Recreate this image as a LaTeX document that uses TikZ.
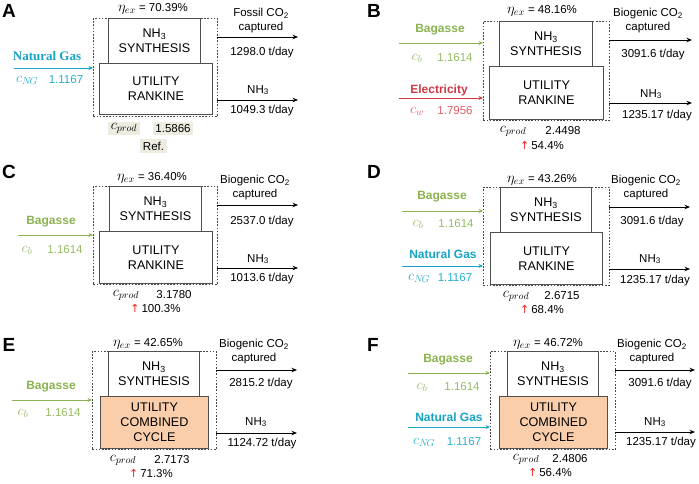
\documentclass[tikz,border=0pt]{standalone}
\usepackage{fontspec}
\setmainfont{Liberation Sans}
\newfontfamily\serifbold{Liberation Serif}
\newfontfamily\dejavu{DejaVu Sans}
\usetikzlibrary{arrows.meta}
\definecolor{ngcyan}{RGB}{22,163,196}
\definecolor{ngcyanl}{RGB}{40,175,205}
\definecolor{bagreen}{RGB}{138,178,78}
\definecolor{bagreenl}{RGB}{150,188,100}
\definecolor{elred}{RGB}{208,56,68}
\definecolor{elredl}{RGB}{222,92,104}
\definecolor{ccorange}{RGB}{250,206,170}
\definecolor{refbeige}{RGB}{238,235,224}
\definecolor{boxgray}{RGB}{80,80,80}
\definecolor{dashgray}{RGB}{70,70,70}
\definecolor{upred}{RGB}{240,30,30}
\tikzset{
  lbl/.style={font=\fontsize{11.5}{14}\selectfont, align=center, inner sep=0pt},
  plabel/.style={font=\bfseries\fontsize{19}{19}\selectfont, inner sep=0pt},
  eqlbl/.style={font=\fontsize{11.5}{14}\selectfont, inner sep=0pt},
  inlbl/.style={font=\bfseries\fontsize{12}{14}\selectfont, inner sep=0pt},
  vallbl/.style={font=\fontsize{11.5}{14}\selectfont, inner sep=0pt},
  synbox/.style={draw=boxgray, line width=0.9pt, anchor=north west, inner sep=0pt,
    align=center, font=\fontsize{12.6}{15}\selectfont},
  utilbox/.style={synbox},
  ccbox/.style={synbox, fill=ccorange},
  dashbox/.style={draw=dashgray, line width=0.9pt, dash pattern=on 1.6pt off 1.6pt,
    anchor=north west, inner sep=0pt},
  outarrow/.style={-{Stealth[length=5.5pt,width=4.5pt]}, line width=0.8pt, black},
  inarrow/.style={-{Stealth[length=4.5pt,width=4pt]}, line width=0.8pt},
  refbox/.style={fill=refbeige, inner sep=0pt, font=\fontsize{11.5}{14}\selectfont},
}
\newcommand{\uparr}{{\color{upred}\dejavu\fontsize{11}{14}\selectfont ↑}\,}
\newcommand{\mth}[1]{{\fontsize{14.5}{14}\selectfont$#1$}}
\newcommand{\etaex}{{\fontsize{14}{14}\selectfont$\eta_{ex}$}}
\begin{document}
\begin{tikzpicture}[x=1pt,y=-1pt]
\useasboundingbox (0,0) rectangle (699,483);

% ================= Panel A =================
\node[plabel] (Alab) at (9,11) {A};
\node[eqlbl] (Aeta) at (153,9) {\etaex\ = 70.39\%};
\node[dashbox, minimum width=124pt, minimum height=98pt] (Adash) at (93,18) {};
\node[synbox, fill=white, minimum width=92pt, minimum height=45pt] (Asyn) at (108,18) {NH\textsubscript{3}\\SYNTHESIS};
\node[utilbox, fill=white, minimum width=113pt, minimum height=51pt] (Autil) at (99,63) {UTILITY\\RANKINE};
\node[inlbl, text=ngcyan, font=\serifbold\bfseries\fontsize{13}{14}\selectfont] (Angt) at (47,56) {Natural Gas};
\coordinate (Ang0) at (14,68);
\coordinate (Ang1) at (93,68);
\draw[inarrow, ngcyan] (Ang0) -- (Ang1);
\node[vallbl, text=ngcyanl] (Angc) at (27,80) {\mth{c_{N\!G}}};
\node[vallbl, text=ngcyanl] (Angv) at (66,80) {1.1167};
\node[lbl] (Aco2) at (261,21) {Fossil CO\textsubscript{2}\\captured};
\coordinate (Ao1a) at (217,37);
\coordinate (Ao1b) at (298,37);
\draw[outarrow] (Ao1a) -- (Ao1b);
\node[lbl] (Aco2v) at (262,53) {1298.0 t/day};
\node[lbl] (Anh3) at (258,90) {NH\textsubscript{3}};
\coordinate (Ao2a) at (217,100);
\coordinate (Ao2b) at (298,100);
\draw[outarrow] (Ao2a) -- (Ao2b);
\node[lbl] (Anh3v) at (262,111) {1049.3 t/day};
\node[refbox, minimum width=32pt, minimum height=13pt] (Acp) at (124,128.5) {\mth{c_{prod}}};
\node[refbox, minimum width=40pt, minimum height=13pt] (Acpv) at (173,128.5) {1.5866};
\node[refbox, minimum width=27pt, minimum height=14pt] (Aref) at (153.5,146) {Ref.};

% ================= Panel B =================
\node[plabel] (Blab) at (374,11) {B};
\node[eqlbl] (Beta) at (542,11) {\etaex\ = 48.16\%};
\node[dashbox, minimum width=126pt, minimum height=99pt] (Bdash) at (483,21) {};
\node[synbox, fill=white, minimum width=93pt, minimum height=45pt] (Bsyn) at (499,21) {NH\textsubscript{3}\\SYNTHESIS};
\node[utilbox, fill=white, minimum width=114pt, minimum height=53pt] (Butil) at (489,66) {UTILITY\\RANKINE};
\node[inlbl, text=bagreen] (Bbag) at (440,30) {Bagasse};
\coordinate (Bb0) at (399,43);
\coordinate (Bb1) at (483,43);
\draw[inarrow, bagreen] (Bb0) -- (Bb1);
\node[vallbl, text=bagreenl] (Bbc) at (417,58) {\mth{c_b}};
\node[vallbl, text=bagreenl] (Bbv) at (455,58) {1.1614};
\node[inlbl, text=elred] (Bel) at (439,90) {Electricity};
\coordinate (Be0) at (399,98);
\coordinate (Be1) at (483,98);
\draw[inarrow, elred] (Be0) -- (Be1);
\node[vallbl, text=elredl] (Bec) at (417,111) {\mth{c_w}};
\node[vallbl, text=elredl] (Bev) at (455,111) {1.7956};
\node[lbl] (Bco2) at (648,21) {Biogenic CO\textsubscript{2}\\captured};
\coordinate (Bo1a) at (609,40);
\coordinate (Bo1b) at (692,40);
\draw[outarrow] (Bo1a) -- (Bo1b);
\node[lbl] (Bco2v) at (653,55) {3091.6 t/day};
\node[lbl] (Bnh3) at (651,94) {NH\textsubscript{3}};
\coordinate (Bo2a) at (609,103);
\coordinate (Bo2b) at (692,103);
\draw[outarrow] (Bo2a) -- (Bo2b);
\node[lbl] (Bnh3v) at (657,116) {1235.17 t/day};
\node[vallbl] (Bcp) at (513,131) {\mth{c_{prod}}};
\node[vallbl] (Bcpv) at (563,131) {2.4498};
\node[vallbl] (Bup) at (542,146) {\uparr 54.4\%};

% ================= Panel C =================
\node[plabel] (Clab) at (9,172) {C};
\node[eqlbl] (Ceta) at (152,178) {\etaex\ = 36.40\%};
\node[dashbox, minimum width=124pt, minimum height=98pt] (Cdash) at (93,186) {};
\node[synbox, fill=white, minimum width=92pt, minimum height=45pt] (Csyn) at (109,186) {NH\textsubscript{3}\\SYNTHESIS};
\node[utilbox, fill=white, minimum width=113pt, minimum height=52pt] (Cutil) at (99,231) {UTILITY\\RANKINE};
\node[inlbl, text=bagreen] (Cbag) at (51,222) {Bagasse};
\coordinate (Cb0) at (18,235);
\coordinate (Cb1) at (93,235);
\draw[inarrow, bagreen] (Cb0) -- (Cb1);
\node[vallbl, text=bagreenl] (Cbc) at (27,250) {\mth{c_b}};
\node[vallbl, text=bagreenl] (Cbv) at (65,250) {1.1614};
\node[lbl] (Cco2) at (255,187.5) {Biogenic CO\textsubscript{2}\\captured};
\coordinate (Co1a) at (217,205);
\coordinate (Co1b) at (298,205);
\draw[outarrow] (Co1a) -- (Co1b);
\node[lbl] (Cco2v) at (262,222) {2537.0 t/day};
\node[lbl] (Cnh3) at (258,259) {NH\textsubscript{3}};
\coordinate (Co2a) at (217,268);
\coordinate (Co2b) at (298,268);
\draw[outarrow] (Co2a) -- (Co2b);
\node[lbl] (Cnh3v) at (262,279) {1013.6 t/day};
\node[vallbl] (Ccp) at (126,295) {\mth{c_{prod}}};
\node[vallbl] (Ccpv) at (174,295) {3.1780};
\node[vallbl] (Cup) at (155.5,309) {\uparr 100.3\%};

% ================= Panel D =================
\node[plabel] (Dlab) at (374,172) {D};
\node[eqlbl] (Deta) at (542,180) {\etaex\ = 43.26\%};
\node[dashbox, minimum width=126pt, minimum height=98pt] (Ddash) at (483,187) {};
\node[synbox, fill=white, minimum width=91pt, minimum height=45pt] (Dsyn) at (500,187) {NH\textsubscript{3}\\SYNTHESIS};
\node[utilbox, fill=white, minimum width=112pt, minimum height=52pt] (Dutil) at (490,232) {UTILITY\\RANKINE};
\node[inlbl, text=bagreen] (Dbag) at (442,197) {Bagasse};
\coordinate (Db0) at (402,211);
\coordinate (Db1) at (483,211);
\draw[inarrow, bagreen] (Db0) -- (Db1);
\node[vallbl, text=bagreenl] (Dbc) at (418,224) {\mth{c_b}};
\node[vallbl, text=bagreenl] (Dbv) at (456,224) {1.1614};
\node[inlbl, text=ngcyan] (Dng) at (443,254) {Natural Gas};
\coordinate (Dn0) at (402,266);
\coordinate (Dn1) at (483,266);
\draw[inarrow, ngcyan] (Dn0) -- (Dn1);
\node[vallbl, text=ngcyanl] (Dngc) at (419,278) {\mth{c_{N\!G}}};
\node[vallbl, text=ngcyanl] (Dngv) at (455,278) {1.1167};
\node[lbl] (Dco2) at (646,187.5) {Biogenic CO\textsubscript{2}\\captured};
\coordinate (Do1a) at (609,207);
\coordinate (Do1b) at (690,207);
\draw[outarrow] (Do1a) -- (Do1b);
\node[lbl] (Dco2v) at (652,222) {3091.6 t/day};
\node[lbl] (Dnh3) at (650,259) {NH\textsubscript{3}};
\coordinate (Do2a) at (609,269);
\coordinate (Do2b) at (690,269);
\draw[outarrow] (Do2a) -- (Do2b);
\node[lbl] (Dnh3v) at (655,281) {1235.17 t/day};
\node[vallbl] (Dcp) at (516,296) {\mth{c_{prod}}};
\node[vallbl] (Dcpv) at (562,296) {2.6715};
\node[vallbl] (Dup) at (542,310) {\uparr 68.4\%};

% ================= Panel E =================
\node[plabel] (Elab) at (9,345) {E};
\node[eqlbl] (Eeta) at (148,344) {\etaex\ = 42.65\%};
\node[dashbox, minimum width=124pt, minimum height=98pt] (Edash) at (92,351) {};
\node[synbox, fill=white, minimum width=91pt, minimum height=45pt] (Esyn) at (108,351) {NH\textsubscript{3}\\SYNTHESIS};
\node[ccbox, minimum width=108pt, minimum height=52pt] (Eutil) at (100,396) {UTILITY\\COMBINED\\CYCLE};
\node[inlbl, text=bagreen] (Ebag) at (51,387) {Bagasse};
\coordinate (Eb0) at (12,400);
\coordinate (Eb1) at (92,400);
\draw[inarrow, bagreen] (Eb0) -- (Eb1);
\node[vallbl, text=bagreenl] (Ebc) at (23,413) {\mth{c_b}};
\node[vallbl, text=bagreenl] (Ebv) at (63,413) {1.1614};
\node[lbl] (Eco2) at (254,351.5) {Biogenic CO\textsubscript{2}\\captured};
\coordinate (Eo1a) at (216,370);
\coordinate (Eo1b) at (297,370);
\draw[outarrow] (Eo1a) -- (Eo1b);
\node[lbl] (Eco2v) at (261,384) {2815.2 t/day};
\node[lbl] (Enh3) at (256,422) {NH\textsubscript{3}};
\coordinate (Eo2a) at (216,433);
\coordinate (Eo2b) at (297,433);
\draw[outarrow] (Eo2a) -- (Eo2b);
\node[lbl] (Enh3v) at (262,444) {1124.72 t/day};
\node[vallbl] (Ecp) at (123,460) {\mth{c_{prod}}};
\node[vallbl] (Ecpv) at (172,460) {2.7173};
\node[vallbl] (Eup) at (151,474) {\uparr 71.3\%};

% ================= Panel F =================
\node[plabel] (Flab) at (373,345) {F};
\node[eqlbl] (Feta) at (548,344) {\etaex\ = 46.72\%};
\node[dashbox, minimum width=125pt, minimum height=98pt] (Fdash) at (490,351) {};
\node[synbox, fill=white, minimum width=91pt, minimum height=45pt] (Fsyn) at (507,351) {NH\textsubscript{3}\\SYNTHESIS};
\node[ccbox, minimum width=108pt, minimum height=52pt] (Futil) at (499,396) {UTILITY\\COMBINED\\CYCLE};
\node[inlbl, text=bagreen] (Fbag) at (448,360) {Bagasse};
\coordinate (Fb0) at (408,373);
\coordinate (Fb1) at (490,373);
\draw[inarrow, bagreen] (Fb0) -- (Fb1);
\node[vallbl, text=bagreenl] (Fbc) at (422,387) {\mth{c_b}};
\node[vallbl, text=bagreenl] (Fbv) at (462,387) {1.1614};
\node[inlbl, text=ngcyan] (Fng) at (449,417) {Natural Gas};
\coordinate (Fn0) at (408,427);
\coordinate (Fn1) at (490,427);
\draw[inarrow, ngcyan] (Fn0) -- (Fn1);
\node[vallbl, text=ngcyanl] (Fngc) at (424,442) {\mth{c_{N\!G}}};
\node[vallbl, text=ngcyanl] (Fngv) at (464,442) {1.1167};
\node[lbl] (Fco2) at (652,351.5) {Biogenic CO\textsubscript{2}\\captured};
\coordinate (Fo1a) at (615,370);
\coordinate (Fo1b) at (695,370);
\draw[outarrow] (Fo1a) -- (Fo1b);
\node[lbl] (Fco2v) at (660,384) {3091.6 t/day};
\node[lbl] (Fnh3) at (655,422) {NH\textsubscript{3}};
\coordinate (Fo2a) at (615,432);
\coordinate (Fo2b) at (695,432);
\draw[outarrow] (Fo2a) -- (Fo2b);
\node[lbl] (Fnh3v) at (661,443) {1235.17 t/day};
\node[vallbl] (Fcp) at (526,459) {\mth{c_{prod}}};
\node[vallbl] (Fcpv) at (570,459) {2.4806};
\node[vallbl] (Fup) at (550,473) {\uparr 56.4\%};
\end{tikzpicture}
\end{document}
